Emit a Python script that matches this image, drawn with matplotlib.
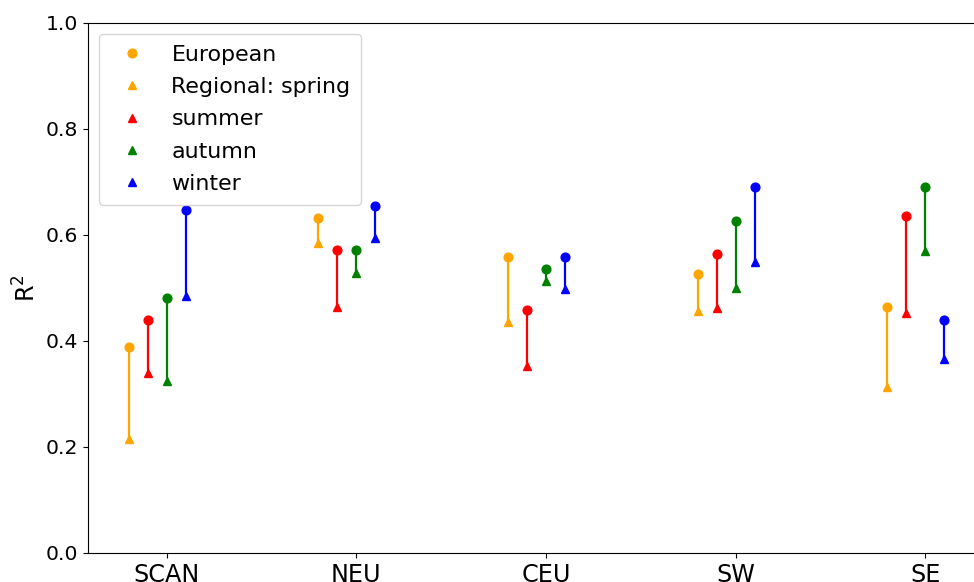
import numpy as np
import matplotlib
matplotlib.use('Agg')
import matplotlib.pyplot as plt

plt.rcParams['font.size'] = 15.9
plt.rcParams['xtick.labelsize'] = 17.2
plt.rcParams['ytick.labelsize'] = 14.7
plt.rcParams['axes.labelsize'] = 17.2

regions = ['SCAN', 'NEU', 'CEU', 'SW', 'SE']
seasons = ['spring', 'summer', 'autumn', 'winter']
colors = ['orange', 'red', 'green', 'blue']

# R^2 of the European model, one list per season (SCAN, NEU, CEU, SW, SE)
european = [
    [0.389, 0.632, 0.558, 0.526, 0.465],
    [0.440, 0.571, 0.458, 0.564, 0.635],
    [0.482, 0.571, 0.535, 0.627, 0.690],
    [0.647, 0.655, 0.558, 0.691, 0.440],
]
# R^2 of the regional models
regional = [
    [0.215, 0.584, 0.436, 0.457, 0.314],
    [0.339, 0.465, 0.353, 0.463, 0.452],
    [0.324, 0.528, 0.513, 0.500, 0.570],
    [0.485, 0.595, 0.499, 0.549, 0.366],
]

fig = plt.figure(figsize=(9.74, 5.82), dpi=100)
ax = fig.add_axes([88/974, 29/582, 897/974, 530/582])

x = np.arange(len(regions))
for i, season in enumerate(seasons):
    xs = x + (i - 2) * 0.1
    ax.vlines(xs, regional[i], european[i], color=colors[i], lw=1.6)
    ax.plot(xs, european[i], 'o', color=colors[i], ms=6.3,
            label='European' if i == 0 else None)
    ax.plot(xs, regional[i], '^', color=colors[i], ms=6.3,
            label='Regional: ' + season if i == 0 else season)

ax.set_xticks(x)
ax.set_xticklabels(regions)
ax.set_xlim(-0.415, 4.315)
ax.set_ylim(0, 1)
ax.set_ylabel('R$^2$')
ax.legend(loc='upper left', labelspacing=0.56, borderpad=0.48)

fig.savefig('out.png', dpi=100)
